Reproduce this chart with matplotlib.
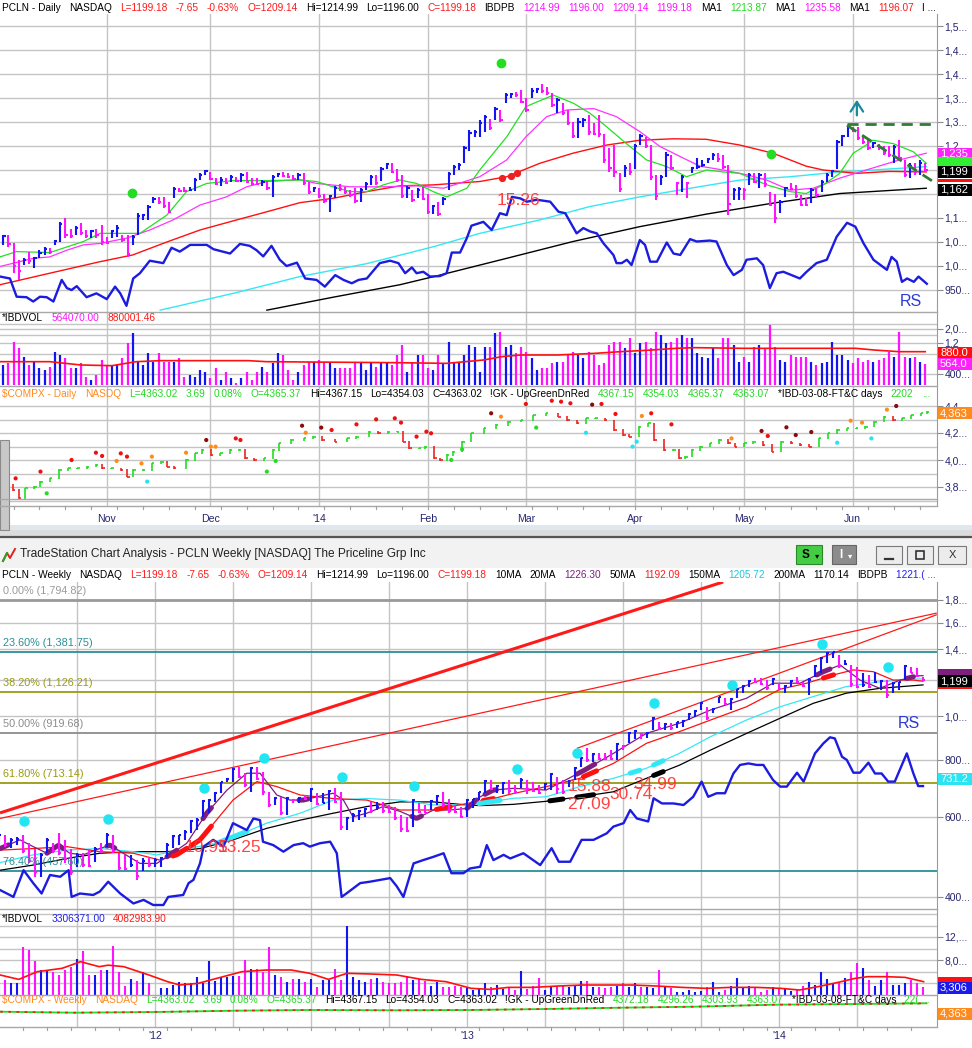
import numpy as np
import matplotlib
matplotlib.use("Agg")
import matplotlib.pyplot as plt
from matplotlib.patches import Rectangle
from matplotlib.lines import Line2D
from matplotlib.ticker import NullLocator, NullFormatter

plt.rcParams['font.family'] = ['Liberation Sans', 'DejaVu Sans']

# ===================== DATA =====================
# ---- PCLN daily (bars 0..179, Oct 3 2013 .. Jun 20 2014) ----
daily_high = [1075,1065,1065,1047,1012,1016,1030,1019,1033,1040,
              1037,1054,1092,1099,1078,1083,1089,1075,1075,1078,
              1085,1061,1075,1085,1065,1065,1065,1110,1108,1127,
              1143,1144,1144,1134,1164,1162,1165,1165,1183,1193,
              1200,1196,1183,1185,1183,1190,1186,1193,1196,1183,
              1183,1179,1178,1190,1193,1196,1193,1190,1193,1193,
              1176,1165,1162,1151,1148,1167,1171,1164,1158,1162,
              1162,1174,1190,1190,1207,1215,1214,1203,1190,1167,
              1158,1162,1165,1151,1127,1134,1144,1196,1210,1214,
              1250,1283,1283,1304,1314,1307,1332,1325,1360,1361,
              1363,1367,1349,1370,1370,1379,1373,1360,1349,1339,
              1325,1301,1308,1308,1314,1297,1314,1276,1245,1252,
              1193,1210,1214,1255,1276,1269,1252,1190,1190,1238,
              1231,1176,1190,1176,1207,1224,1221,1224,1235,1235,
              1231,1210,1162,1165,1162,1193,1193,1193,1193,1155,
              1151,1137,1165,1172,1169,1148,1141,1162,1162,1179,
              1193,1200,1262,1273,1294,1290,1290,1273,1266,1259,
              1255,1249,1249,1252,1262,1221,1214,1214,1221,1215]
daily_low = [1044,1044,1040,985,971,1002,1005,995,1016,1023,
             1026,1044,1051,1058,1058,1065,1065,1058,1058,1058,
             1044,1046,1058,1061,1049,1019,1044,1065,1096,1096,
             1131,1129,1120,1110,1141,1155,1155,1157,1157,1179,
             1190,1179,1169,1167,1171,1176,1176,1176,1172,1169,
             1168,1167,1158,1144,1186,1186,1183,1179,1179,1169,
             1151,1155,1141,1132,1113,1141,1157,1151,1144,1132,
             1134,1158,1169,1169,1178,1203,1193,1176,1141,1141,
             1134,1141,1137,1108,1108,1104,1127,1158,1189,1200,
             1214,1240,1269,1269,1280,1283,1305,1301,1339,1351,
             1353,1339,1321,1349,1360,1360,1356,1332,1318,1314,
             1294,1266,1266,1290,1273,1273,1269,1214,1196,1186,
             1155,1186,1189,1203,1252,1245,1179,1137,1169,1186,
             1200,1148,1155,1141,1193,1203,1207,1214,1221,1217,
             1203,1106,1137,1137,1137,1169,1172,1162,1165,1124,
             1089,1110,1144,1158,1141,1124,1124,1131,1144,1155,
             1176,1186,1203,1249,1269,1280,1262,1255,1242,1245,
             1242,1231,1228,1214,1221,1186,1183,1189,1189,1196]
daily_close = [1050,1062,1045,1000,990,1012,1010,1016,1028,1036,
               1030,1052,1088,1065,1062,1080,1068,1062,1072,1064,
               1050,1048,1072,1080,1055,1025,1060,1105,1106,1122,
               1140,1134,1125,1113,1160,1157,1156,1159,1180,1190,
               1198,1182,1171,1180,1173,1186,1178,1189,1176,1171,
               1170,1176,1162,1186,1192,1188,1185,1181,1190,1172,
               1155,1162,1145,1135,1145,1163,1160,1154,1147,1136,
               1158,1170,1186,1172,1203,1212,1196,1180,1145,1163,
               1138,1158,1140,1112,1124,1108,1140,1192,1206,1210,
               1246,1278,1280,1298,1310,1288,1328,1304,1356,1358,
               1356,1342,1325,1365,1368,1365,1360,1335,1345,1318,
               1298,1270,1300,1305,1280,1276,1274,1220,1205,1195,
               1160,1205,1195,1250,1270,1250,1185,1145,1185,1232,
               1205,1172,1186,1172,1205,1207,1210,1222,1232,1222,
               1207,1130,1158,1160,1158,1190,1176,1190,1170,1128,
               1100,1133,1162,1160,1145,1128,1127,1158,1147,1175,
               1190,1197,1258,1270,1290,1283,1266,1258,1246,1256,
               1245,1235,1232,1248,1225,1190,1208,1195,1215,1199]
daily_volume_k = [695,547,580,1257,992,738,547,616,486,458,
                  515,880,782,695,486,486,580,360,320,383,
                  655,547,547,547,695,1185,1690,616,547,830,
                  616,830,616,616,616,695,360,383,360,458,
                  431,340,486,320,431,340,284,340,431,320,
                  431,515,431,580,830,782,458,320,431,547,
                  616,616,655,616,616,486,486,486,486,616,
                  616,458,616,515,580,616,547,782,1117,431,
                  616,782,782,486,458,782,580,1257,580,580,
                  782,1117,1050,431,1050,1050,1690,1800,1050,1117,
                  830,1050,880,695,458,486,486,580,616,616,
                  782,880,782,695,880,782,547,580,1117,1257,
                  1257,992,1420,830,1185,1257,992,1800,1595,1185,
                  1257,1420,1595,1420,1420,830,738,695,992,695,
                  1420,1420,1117,616,738,616,1050,1117,992,2280,
                  1050,655,616,782,738,738,738,616,547,580,
                  616,1257,782,782,655,580,695,616,655,616,
                  655,695,880,738,1800,738,695,738,616,564]
daily_month_bar = [21, 41, 62, 83, 102, 123, 144, 165]
daily_month_lbl = ['Nov', 'Dec', "'14", 'Feb', 'Mar', 'Apr', 'May', 'Jun']

# daily moving averages / RS (bar position, value)
d_ma_green_x = [0.4,3.6,10,16.5,19.7,23.6,27.4,32.6,36.4,40.3,45.4,51.9,58.3,61.5,64.7,68,71.2,74.4,77.6,80.8,84,86.6,90.5,93,98.2,101.9,107.2,111.1,114.3,117.5,121.3,125.2,129.1,132.9,136.8,140,143.2,148.4,152.9,156,159.3,162.5,165.1,167.6,168.9,172.8,176.7,179.2]
d_ma_green_v = [1019,1030,1028,1051,1068,1068,1068,1106,1155,1172,1178,1178,1179,1176,1165,1155,1155,1169,1179,1172,1155,1144,1162,1200,1269,1332,1356,1339,1318,1290,1255,1221,1207,1186,1200,1196,1193,1169,1155,1151,1169,1193,1235,1252,1262,1255,1238,1214]
d_ma_mag_x = [0.4,6.8,10,13.3,16.5,19.7,24.8,29.3,33.8,39,44.1,48,51.9,58.3,61.5,68,74.4,80.8,86,93,98.2,101.9,105.9,109.8,115,119.4,123.9,127.8,131.7,135.5,140,144.5,148.4,152.9,157.4,162.5,167.6,174,179.2]
d_ma_mag_v = [999,1016,1019,1033,1044,1047,1058,1075,1096,1127,1144,1165,1176,1180,1172,1165,1165,1167,1162,1186,1221,1269,1311,1325,1328,1311,1280,1249,1228,1208,1200,1190,1179,1158,1162,1183,1200,1221,1235]
d_ma_red_x = [0.4,10,19.7,26,32.6,39,45.4,51.9,58.3,64.7,71.2,77.6,84,93,98.2,104.6,111,117.5,123.9,130.3,136.7,143.2,149.6,156,159.3,165.7,172,179.2]
d_ma_red_v = [961,985,1009,1023,1050,1075,1094,1113,1132,1141,1155,1167,1169,1176,1186,1214,1235,1252,1262,1265,1264,1252,1235,1208,1200,1193,1197,1196]
d_ma_cyan_x = [31.3,45.4,58.3,71.2,84,93,104.6,114.3,123.9,133.6,143.2,152.9,162.5,168.9,179.2]
d_ma_cyan_v = [908,943,978,1005,1040,1068,1096,1124,1144,1162,1179,1186,1196,1200,1207]
d_ma_black_x = [51.9,64.7,77.6,85.3,98.2,111,123.9,136.7,149.6,162.5,179.2]
d_ma_black_v = [908,935,961,981,1016,1051,1082,1108,1131,1151,1162]
d_rs_x = [0.4,2.3,3.6,5.5,6.8,8.1,9.4,10.7,12.3,13.3,14.2,15.2,17.1,19,21,22.6,23.6,24.8,26.1,27.4,29.3,31.9,33.5,35.1,37.1,40.3,41.6,44.8,46.7,48.6,49.9,51.2,52.8,54.4,55.7,57.7,59.3,61.5,63.1,65.1,66.7,68.3,69.6,71.2,73.7,75.7,77.3,78.6,79.9,80.8,82.1,83.4,85.3,86.6,87.6,89.2,90.5,91.4,93.7,95.3,96.9,98.2,99.2,100.8,102.1,104,106.6,108.2,109.5,111.7,113,114.3,115.6,116.9,118.8,119.4,120.4,121.4,122.3,123.9,124.9,125.9,127.2,129.1,130.4,131.7,133.6,134.9,137.4,138.7,140.7,142,143.6,144.5,146.5,147.7,149,150.3,151.6,154.8,156.1,158,160,161.9,163.9,165.5,167.1,169,171.6,172.5,173.5,174.5,175.5,176.8,177.7,179.3]
d_rs_v = [978,974,936,935,926,936,935,926,971,954,950,958,935,943,931,957,943,917,974,985,1011,1006,1038,1030,1044,1044,1035,1026,1046,1042,1033,1020,1042,1013,1000,1007,974,971,957,981,971,964,971,974,1006,1011,1006,985,997,985,988,978,979,985,1028,1028,1058,1084,1092,1075,1110,1106,1144,1141,1134,1138,1134,1113,1110,1068,1079,1072,1068,1047,1023,1006,1006,1013,1002,1054,1044,1009,1009,1049,1026,1023,1056,1051,1053,1051,1002,981,992,1013,1016,1002,954,985,988,974,988,1006,1013,1061,1090,1082,1047,1013,992,1019,1009,967,974,967,978,963]
d_vavg_x = [0.4,10,16,22,26.7,31.5,48.3,51.8,77,86.6,93.8,97.3,100.9,108.1,115.3,120.1,126.1,130.9,134.5,144,153.6,165.6,169.2,174,179]
d_vavg_v = [616,616,547,534,616,639,639,616,594,580,655,738,782,782,830,880,933,992,1016,992,992,992,933,880,880]
d_green_dot_x = [25.8, 97.1, 149.2]
d_green_dot_v = [1153, 1423, 1233]
d_red_dot_x = [97.2, 99.1, 100.1]
d_red_dot_v = [1183, 1188, 1193]
d_trend_x = [163.9, 180.5]
d_trend_v = [1293, 1176]
d_resist_x = [163.9, 181.0]
d_resist_v = [1295, 1295]

# ---- NASDAQ composite (daily panel) ----
compx_x = [1.0,2.8,4.0,5.2,7.0,8.2,10.0,11.8,13.6,15.3,17.1,18.9,20.1,21.9,23.7,24.9,26.1,27.9,29.7,31.5,32.7,33.9,36.3,38.1,39.3,41.1,42.9,44.7,46.5,47.7,49.5,51.3,53.0,54.2,56.6,59.0,60.8,62.6,65.0,67.4,69.2,71.6,73.4,75.2,77.0,78.2,79.4,81.2,82.4,84.2,85.4,86.6,87.8,89.6,91.4,93.8,96.1,98.5,100.9,103.3,105.7,108.1,109.9,111.7,113.5,115.3,117.1,118.9,120.7,121.9,123.7,125.5,126.7,128.5,130.3,131.5,132.7,133.9,135.6,137.4,139.2,141.0,142.2,144.0,145.8,147.6,149.4,151.2,153.0,154.8,156.6,158.4,160.2,162.0,163.8,165.6,167.4,169.2,171.0,172.8,174.6,176.3,178.1,179.3]
compx_v = [3815,3778,3716,3790,3802,3839,3864,3926,3938,3938,3951,3963,3938,3938,3926,3877,3926,3926,3975,3988,3951,3938,4000,4049,4074,4037,4049,4074,4074,4012,4000,4012,4074,4123,4148,4160,4173,4148,4136,4160,4173,4210,4198,4210,4210,4136,4086,4086,4099,4012,4000,4037,4062,4136,4198,4235,4259,4284,4296,4333,4346,4321,4296,4272,4309,4309,4296,4222,4185,4173,4247,4272,4148,4074,4074,4012,4025,4074,4099,4123,4148,4123,4099,4123,4136,4111,4062,4136,4123,4111,4099,4160,4198,4222,4235,4235,4247,4284,4321,4296,4309,4333,4346,4356]
compx_dot_x = [3.4,8.2,9.4,14.2,18.9,20.1,22.9,23.7,24.9,27.7,28.8,29.7,36.3,40.2,41.1,42.0,45.9,46.8,51.9,53.6,58.7,59.4,62.4,64.4,69.2,73.0,76.6,77.8,80.8,82.7,83.6,87.5,89.6,95.2,97.1,101.9,103.9,106.9,108.7,110.5,113.5,114.7,116.5,119.2,122.5,123.3,124.3,126.1,130.0,141.6,147.4,148.6,152.2,154.0,157.0,162.0,164.6,166.8,168.6,171.6,173.4]
compx_dot_v = [3864,3914,3753,4000,4054,4030,3993,4049,4025,3975,3840,4025,4054,4148,4099,4099,4160,4148,3914,3993,4254,4202,4240,4222,4264,4301,4309,4277,4173,4210,4198,4000,4079,4346,4321,4415,4240,4439,4432,4420,4202,4410,4415,4341,4099,4136,4326,4346,4264,4160,4215,4178,4242,4185,4207,4128,4291,4277,4160,4373,4400]
compx_dot_kind = ['r','r','g','r','r','r','o','r','r','o','c','o','o','d','o','o','r','r','g','g','d','o','d','r','r','r','r','r','r','r','r','g','g','d','o','r','g','r','r','r','c','d','r','r','c','c','o','r','r','o','d','r','d','d','d','c','o','o','c','o','d']

# ---- PCLN weekly (weeks 0..154, Jul 2011 .. Jun 2014) ----
weekly_high = [553,549,540,542,549,526,512,500,540,526,
               553,535,512,500,500,512,517,526,553,549,
               500,496,496,483,487,491,487,491,526,549,
               549,562,591,596,654,659,682,718,730,768,
               774,749,774,774,755,682,665,665,665,659,
               665,671,694,677,677,688,694,682,601,612,
               622,627,649,649,649,638,633,606,601,659,
               643,638,654,671,682,659,638,633,659,659,
               682,724,724,706,718,724,706,730,724,718,
               706,712,749,736,724,724,774,814,849,828,
               828,828,842,871,863,924,932,916,924,997,
               972,964,964,972,980,1014,1031,1075,1048,1039,
               1103,1094,1094,1150,1170,1199,1210,1210,1199,1210,
               1180,1170,1199,1220,1189,1210,1294,1349,1384,1384,
               1360,1326,1294,1283,1240,1230,1251,1199,1199,1189,
               1189,1294,1283,1272,1215]
weekly_low = [521,517,513,521,500,475,444,444,500,500,
              496,475,448,467,467,467,479,500,517,500,
              459,459,467,437,456,467,467,467,491,513,
              521,535,553,562,601,612,648,677,715,718,
              730,700,682,724,671,633,638,606,606,643,
              643,654,648,638,643,622,643,562,562,586,
              591,601,612,622,612,612,591,556,556,572,
              612,612,622,638,633,612,612,596,601,627,
              654,677,688,677,676,676,676,694,676,682,
              676,688,688,676,676,700,724,774,794,794,
              801,801,801,801,842,871,890,890,894,932,
              932,932,932,940,947,980,997,1031,980,1014,
              1066,1057,1031,1094,1122,1160,1180,1170,1140,1170,
              1140,1122,1160,1180,1160,1112,1220,1240,1304,1337,
              1272,1294,1160,1150,1160,1150,1180,1140,1094,1122,
              1140,1199,1240,1220,1196]
weekly_close = [548,522,535,538,505,480,455,495,535,505,
                500,485,455,495,470,468,510,505,548,505,
                465,462,470,445,480,470,484,488,520,545,
                547,558,588,592,650,655,678,715,728,765,
                735,705,770,728,680,638,660,612,660,655,
                662,657,690,642,645,684,648,570,596,608,
                618,624,620,630,618,615,596,565,560,655,
                615,614,650,668,640,618,615,600,655,656,
                680,720,692,702,712,685,680,725,690,686,
                679,708,745,690,682,720,770,810,800,825,
                806,804,803,866,860,918,928,912,920,992,
                940,960,940,968,976,1010,1027,1070,990,1035,
                1098,1062,1090,1145,1165,1195,1185,1175,1150,1205,
                1145,1165,1195,1185,1165,1200,1288,1340,1378,1380,
                1285,1300,1175,1160,1168,1155,1190,1195,1110,1180,
                1185,1290,1245,1225,1199]
weekly_volume_m = [3.65,4.52,3.94,4.05,10.3,9.73,7.82,6.26,6.26,5.97,
                   5.39,6.26,6.84,8.11,9.56,5.39,5.39,6.26,6.26,10.4,
                   5.97,3.47,4.63,4.34,5.97,3.94,2.0,3.07,3.07,3.65,
                   4.23,3.94,4.05,4.98,4.05,7.82,4.34,5.10,5.10,5.21,
                   5.21,8.0,6.37,6.37,5.97,10.3,5.39,4.98,4.23,4.63,
                   4.63,4.23,4.63,3.36,4.52,4.52,6.37,4.52,13.9,5.10,
                   4.52,4.23,4.63,4.81,4.23,4.05,4.05,4.23,5.21,4.52,
                   4.63,4.34,3.47,4.23,3.24,3.36,3.47,3.24,3.07,2.78,
                   3.07,3.94,3.24,3.65,2.89,3.24,2.78,6.14,2.89,3.47,
                   4.81,2.78,3.24,3.47,3.65,3.24,3.65,4.34,4.34,3.24,
                   3.24,3.07,3.24,3.47,3.94,3.36,3.94,3.24,3.24,3.07,
                   6.26,3.24,3.07,2.49,2.49,2.78,2.49,2.66,3.24,4.23,
                   2.49,2.78,3.47,4.81,3.24,3.47,3.07,2.49,2.78,3.24,
                   2.89,2.89,2.66,2.78,3.47,4.23,3.65,5.97,4.63,4.05,
                   4.05,4.81,5.97,7.42,6.55,4.52,3.47,4.52,5.97,3.65,
                   3.65,4.05,4.52,3.94,3.31]
weekly_year_week = [26, 78, 130]
weekly_year_lbl = ["'12", "'13", "'14"]

w_ma10_x = [0.2,3.5,5.7,8,9.9,11.8,14,16.8,18.5,20.7,23.5,26.3,28.5,31.3,34.6,38,41.3,43.5,46.3,48.5,50.7,53,55.7,57.4,59,61.3,64,66.8,69.6,72.4,75.2,78,80.2,82.4,85.7,91.2,97.6,102.4,107.9,113.4,118.6,124.6,129,133.5,137.4,140.2,143.5,146.8,150.2,153,154]
w_ma10_v = [512,535,517,500,521,500,496,512,521,500,475,475,496,526,612,688,749,749,671,654,654,665,677,654,601,612,633,618,596,622,622,627,665,688,694,688,761,828,916,964,1031,1094,1180,1180,1251,1294,1199,1150,1199,1225,1226]
w_ma20_x = [0.2,5.7,11.3,16.8,22.4,26.8,29.6,33.5,39,43,46.3,50.2,55.7,61.3,66.8,72.4,78,82.4,85.7,91.2,96.8,102.4,107.9,113.4,118.6,124.6,130.2,134.6,139,142.4,145.7,149,152.4,154]
w_ma20_v = [508,512,517,504,500,483,496,535,654,718,700,671,659,654,622,622,643,659,676,700,730,787,871,924,980,1048,1145,1180,1230,1262,1251,1199,1199,1192]
w_ma150_x = [0.2,5.7,11.3,16.8,22.4,26.3,31.3,36.3,41.3,44.6,50.2,55.7,61.3,66.8,72.4,78,80.2,85.7,91.2,96.8,102.4,107.9,113.4,118.6,124.6,130.2,135.7,141.2,146.8,152.4,154]
w_ma150_v = [477,496,508,512,504,496,512,526,558,582,612,654,659,654,638,638,643,660,665,700,730,768,828,901,980,1048,1103,1160,1189,1205,1206]
w_ma200_x = [0.2,5.7,11.3,16.8,22.4,28,33.5,39,44.6,50.2,55.7,61.3,66.8,72.4,78,80.2,85.7,91.2,96.8,102.4,107.9,113.4,118.6,124.6,130.2,135.7,141.2,146.8,154]
w_ma200_v = [459,471,487,500,504,504,512,535,567,591,612,633,648,648,638,636,640,650,665,682,730,780,842,916,989,1066,1122,1150,1170]
w_ma10_bold = [(0.2,1.6),(8,10.7),(18,19.3),(28,29.6),(34,35.4),(50,51.5),(68.8,70.4),(78,79.6),(81,82.9),(96.3,99.3),(136.3,138.5),(151.3,152.4)]
w_ma20_bold = [(29,31.3),(32,35.4),(72.9,75.2),(80.7,82.4),(97.4,99.6),(137.4,139.1)]
w_ma150_bold = [(36.3,41.3),(80,83.5),(105.2,106.8),(109.1,110.7)]
w_ma200_bold = [(91.8,94),(96.3,99.1),(109.1,110.7)]
w_rs_x = [0.2,1.8,2.4,4.1,5.7,7.1,8.5,10.2,11.6,12.1,13.5,15.7,16.8,18.2,20.2,22.4,24.1,25.7,27.4,28.2,30.7,31.6,32.4,33.5,34.1,35.7,37.4,39,41.3,42.4,43.5,44,45.7,47.4,49.1,50.7,51.8,53.5,55.2,56.3,57.1,57.9,60.2,61.8,63.5,65.2,66.3,67.4,69.1,70.7,72.4,74.1,75.4,77.4,78.5,80.2,81.3,82.4,84.1,85.2,87.4,90.2,92.1,93.3,95.2,97.1,99.1,101.3,102.4,104.1,105.2,106.3,108.2,109.1,110.5,112.4,114.1,115.7,117.1,118.2,119.6,121,122.4,123.5,124.9,126.3,127.4,129,130.2,131.3,133,134.1,136,137.4,138.5,139.3,140.5,141.3,142.4,143.5,144.9,146,147.1,148.2,149.3,151.3,152.4,153.2,154]
w_rs_v = [415,405,401,459,430,408,448,444,459,401,408,405,412,433,408,388,395,385,385,401,405,430,437,475,517,535,517,582,562,596,591,530,521,504,521,526,517,526,530,500,401,408,430,433,437,441,423,401,475,483,491,500,452,452,463,467,521,483,496,487,500,471,513,479,479,535,535,553,572,582,622,596,587,660,643,643,638,665,718,665,677,677,748,781,787,781,781,724,700,700,751,718,828,871,898,893,814,801,751,751,790,748,748,718,718,828,748,702,702]
w_vavg_x = [0.2,3.3,6.4,10.5,13.6,16.7,18.2,20.8,25,28.1,30.1,33.2,36.3,40.5,44.6,48.7,51.8,54.9,58,62.1,66.3,70.4,74.5,78.7,81.8,84.9,89,93.1,97.3,101.4,105.5,109.7,113.8,117.9,122,126.2,130.3,133.4,136.5,139.6,142.7,144.8,147.9,151,154.1]
w_vavg_v = [5.39,4.63,5.97,6.55,7.7,6.84,7.1,6.84,5.39,4.23,3.65,3.94,4.81,5.97,6.26,6.26,5.68,4.63,5.68,5.56,5.39,4.63,4.23,3.07,2.89,3.24,3.24,3.47,3.65,3.65,3.65,3.47,3.24,3.07,3.24,3.24,3.07,2.78,3.36,4.05,4.81,5.10,5.10,4.98,4.23]
w_cyan_dot_x = [4.2,18.2,34.2,44.2,57.2,69.2,86.3,96.3,109.2,122.2,137.2,148.2]
w_cyan_dot_v = [589,594,695,809,735,702,765,829,1068,1170,1439,1281]
fib_pct = ['0.00%', '23.60%', '38.20%', '50.00%', '61.80%', '76.40%']
fib_level = [1794.82, 1381.75, 1126.21, 919.68, 713.14, 457.60]
fib_color = ['#9a9a9a', '#2a8f96', '#9a9a10', '#8c8c8c', '#9a9a10', '#2a8f96']
w_trend_x = [(0.17, 120.7), (0.17, 156.3), (96.3, 156.3)]
w_trend_v = [(613, 1968), (596, 1682), (849, 1668)]
w_trend_lw = [2.2, 0.9, 0.9]
w_note_txt = ['10.95', '13.25', '15.88', '27.09', '30.74', '34.99']
w_note_x = [31.0, 36.5, 94.8, 94.7, 101.7, 105.7]
w_note_v = [516, 516, 699, 638, 671, 706]
wcompx_x = [0.2,12.6,26,39.4,51.8,66.3,78.7,91.1,103.5,115.9,129.3,142.7,154.6]
wcompx_v = [2801,2615,2745,2987,3117,3061,3117,3303,3545,3731,4103,4233,4363]

# ===================== FIGURE =====================
W, H = 972, 1048
fig = plt.figure(figsize=(W / 100, H / 100), dpi=100)
fig.patch.set_facecolor('white')

BLUE = '#1414f2'
MAG = '#ff12ff'
GRID = '#c4c4c4'
NAVY = '#25256e'
RSB = '#1c1ce0'
TRED = '#ff1a1a'
TGRN = '#25d825'
ORG = '#ff8a1e'
CYAN = '#2ae4f2'
PURP = '#7d1f7d'
DOTC = {'r': '#ee1111', 'd': '#8b0a0a', 'o': '#ff8c1a', 'c': '#22e5f2', 'g': '#22dd22'}


def fx(x):
    return x / W


def fy(y):
    return 1 - y / H


def frect(x0, y0, x1, y1, **kw):
    fig.patches.append(Rectangle((fx(x0), fy(y1)), (x1 - x0) / W, (y1 - y0) / H,
                                 transform=fig.transFigure, **kw))


def fline(xs, ys, **kw):
    fig.lines.append(Line2D([fx(x) for x in xs], [fy(y) for y in ys],
                            transform=fig.transFigure, **kw))


def ftext(x, y, s, **kw):
    return fig.text(fx(x), fy(y), s, **kw)


def mkax(x0, y0, x1, y1, xlim, ylim, log=False):
    ax = fig.add_axes([fx(x0), fy(y1), (x1 - x0) / W, (y1 - y0) / H])
    if log:
        ax.set_yscale('log')
    ax.set_xlim(*xlim)
    ax.set_ylim(min(ylim), max(ylim))
    for s in ['top', 'left', 'bottom']:
        ax.spines[s].set_visible(False)
    ax.spines['right'].set_color('#9a9a9a')
    ax.yaxis.tick_right()
    ax.tick_params(axis='y', which='major', direction='out', length=4, width=0.8,
                   color='#8a8a8a', labelsize=7.5, labelcolor=NAVY, pad=1.5)
    ax.yaxis.set_minor_locator(NullLocator())
    ax.yaxis.set_minor_formatter(NullFormatter())
    ax.set_xticks([])
    ax.patch.set_alpha(0)
    return ax


def grid(ax, ys, xs):
    for y in ys:
        ax.axhline(y, color=GRID, lw=1.0, zorder=0)
    for x in xs:
        ax.axvline(x, color=GRID, lw=1.0, zorder=0)


def set_ticks(ax, ticks, labels):
    ax.set_yticks(ticks)
    ax.set_yticklabels(labels)
    ax.yaxis.set_minor_locator(NullLocator())


def header(tokens, x0, x1, y, size=7.3):
    r = fig.canvas.get_renderer()
    ts = [ftext(x0, y, s, color=c, fontsize=size, va='center', ha='left', zorder=20)
          for s, c in tokens]
    ws = [t.get_window_extent(r).width for t in ts]
    gap = (x1 - x0 - sum(ws)) / (len(ts) - 1)
    gap = min(max(gap, 3.0), 16.0)
    x = x0
    for t, w in zip(ts, ws):
        t.set_position((fx(x), fy(y)))
        x += w + gap


def box(y, text, bg, h=12, fg='white'):
    frect(938, y - h / 2, 972, y + h / 2, facecolor=bg, edgecolor='none', zorder=30)
    if text:
        ftext(940, y, text, color=fg, fontsize=8, va='center', ha='left', zorder=31)


def draw_bars(ax, high, low, close, tick):
    n = len(close)
    x = np.arange(n)
    cols = [BLUE] + [BLUE if close[i] >= close[i - 1] else MAG for i in range(1, n)]
    ax.vlines(x, low, high, colors=cols, lw=1.5, zorder=4)
    ax.hlines(close, x, x + tick, colors=cols, lw=1.5, zorder=4)
    return cols


# ---------------- window chrome ----------------
frect(0, 530, 972, 536, facecolor='#dcdcdc', edgecolor='none', zorder=1)
fline([0, 972], [536.5, 536.5], color='#555555', lw=1.6, zorder=2)
frect(0, 538, 972, 568, facecolor='#f2f2f2', edgecolor='none', zorder=1)
frect(0, 525, 972, 530, facecolor='#dfe7ef', edgecolor='none', zorder=1)
frect(0, 440, 9, 530, facecolor='#c8c8c8', edgecolor='#8a8a8a', lw=0.8, zorder=1)
fline([3, 7, 10, 15], [561, 553, 558, 549], color='#dd2222', lw=1.4, zorder=3)
fline([3, 7], [561, 553], color='#22aa22', lw=1.4, zorder=3)
ftext(20, 554, 'TradeStation Chart Analysis - PCLN Weekly [NASDAQ] The Priceline Grp Inc',
      fontsize=8.6, color='#222222', va='center', ha='left', zorder=5)
frect(796, 545, 822, 564, facecolor='#44cc44', edgecolor='#2a8a2a', lw=0.8, zorder=3)
ftext(806, 555, 'S', fontsize=8.5, fontweight='bold', color='black', va='center', ha='center', zorder=5)
ftext(817, 556, '▾', fontsize=6, color='black', va='center', ha='center', zorder=5, family='DejaVu Sans')
frect(832, 545, 856, 564, facecolor='#8c8c8c', edgecolor='#666666', lw=0.8, zorder=3)
ftext(841, 555, 'I', fontsize=8.5, fontweight='bold', color='white', va='center', ha='center', zorder=5)
ftext(850, 556, '▾', fontsize=6, color='white', va='center', ha='center', zorder=5, family='DejaVu Sans')
for bx0, bx1 in [(876, 902), (907, 933), (938, 966)]:
    frect(bx0, 546, bx1, 564, facecolor='#ececec', edgecolor='#7a7a7a', lw=0.8, zorder=3)
fline([885, 893], [559, 559], color='#333333', lw=1.6, zorder=5)
frect(916, 551, 924, 559, facecolor='none', edgecolor='#333333', lw=1.2, zorder=5)
ftext(952, 555, 'X', fontsize=8, color='#333333', va='center', ha='center', zorder=5)

# ---------------- DAILY PRICE ----------------
DXL = (0.386, 181.27)
ax1 = mkax(0, 14, 937, 312, DXL, (1200 + (170 - 14) * 50 / 24, 1200 - (312 - 170) * 50 / 24))
grid(ax1, list(range(950, 1501, 50)), daily_month_bar)
set_ticks(ax1, [950, 1000, 1050, 1100, 1250, 1300, 1350, 1400, 1450, 1500],
          ['950...', '1,0...', '1,0...', '1,1...', '1,2', '1,3...', '1,3...', '1,4...', '1,4...', '1,5...'])
ax1.plot(d_ma_black_x, d_ma_black_v, color='black', lw=1.0, zorder=2)
ax1.plot(d_ma_cyan_x, d_ma_cyan_v, color='#33e8f5', lw=1.0, zorder=2)
ax1.plot(d_ma_red_x, d_ma_red_v, color='#ff1010', lw=1.0, zorder=2)
ax1.plot(d_ma_mag_x, d_ma_mag_v, color='#ff33ff', lw=0.9, zorder=2)
ax1.plot(d_ma_green_x, d_ma_green_v, color='#22e022', lw=0.9, zorder=2)
ax1.plot(d_rs_x, d_rs_v, color=RSB, lw=1.7, zorder=3)
d_cols = draw_bars(ax1, daily_high, daily_low, daily_close, 0.45)
ax1.plot(d_green_dot_x, d_green_dot_v, 'o', color='#22dd22', ms=6, zorder=5)
ax1.plot(d_red_dot_x, d_red_dot_v, 'o', color='#ee2020', ms=4.2, zorder=5)
ax1.plot(d_resist_x, d_resist_v, color='#2e7d32', lw=2, dashes=(4, 2.5), zorder=5)
ax1.plot(d_trend_x, d_trend_v, color='#2e7d32', lw=2, dashes=(4, 2.5), zorder=5)
ax1.annotate('', xy=(165.8, 1352), xytext=(165.8, 1308),
             arrowprops=dict(arrowstyle='->,head_length=0.7,head_width=0.45', color='#1a8a9a', lw=1.6),
             zorder=6)
ax1.text(96.3, 1137, '15.26', color='#ff4040', fontsize=12.5, va='center', ha='left', zorder=6)
ax1.text(174.1, 925, 'RS', color='#2a3ad8', fontsize=11.5, va='center', ha='left', zorder=6)
fline([0, 937], [312, 312], color='#a8a8a8', lw=1, zorder=3)

# ---------------- DAILY VOLUME ----------------
ax2 = mkax(0, 312, 937, 385, DXL, (1200 * np.exp((343 - 385) / 28), 1200 * np.exp((343 - 312) / 28)), log=True)
grid(ax2, [400, 800, 1200, 1600, 2000, 2400], daily_month_bar)
set_ticks(ax2, [400, 1200, 2000], ['400...', '1,2', '2,0...'])
ax2.vlines(np.arange(len(daily_volume_k)), 1, daily_volume_k, colors=d_cols, lw=1.6, zorder=3)
ax2.plot(d_vavg_x, d_vavg_v, color='#ff1010', lw=1.2, zorder=4)
fline([0, 937], [385.5, 385.5], color='#a8a8a8', lw=1, zorder=3)

# ---------------- DAILY COMPX ----------------
ax3 = mkax(0, 386, 937, 506, DXL, (4000 + (460 - 386) * 200 / 27, 4000 - (506 - 460) * 200 / 27))
grid(ax3, list(range(3700, 4401, 100)), daily_month_bar)
set_ticks(ax3, [3800, 4000, 4200, 4400], ['3,8...', '4,0...', '4,2...', '4,4'])
for k in range(1, len(compx_v)):
    c = '#22dd22' if compx_v[k] >= compx_v[k - 1] else '#ee2222'
    ax3.vlines(compx_x[k], min(compx_v[k], compx_v[k - 1]) - 4, max(compx_v[k], compx_v[k - 1]) + 4,
               colors=c, lw=1.2, zorder=3)
    ax3.hlines(compx_v[k], compx_x[k], compx_x[k] + 0.5, colors=c, lw=1.2, zorder=3)
ax3.scatter(compx_dot_x, compx_dot_v, s=9, c=[DOTC[k] for k in compx_dot_kind], zorder=4, linewidths=0)
fline([0, 937], [499, 499], color='#a8a8a8', lw=1, zorder=3)
fline([0, 937], [506, 506], color='#a8a8a8', lw=1, zorder=3)
for i in range(3, 181, 5):
    px = (i - DXL[0]) / (DXL[1] - DXL[0]) * 937
    fline([px, px], [506, 509], color='#a0a0a0', lw=0.8, zorder=3)
for i, lbl in zip(daily_month_bar, daily_month_lbl):
    px = (i - DXL[0]) / (DXL[1] - DXL[0]) * 937
    ftext(px, 519, lbl, fontsize=7.6, color=NAVY, va='center', ha='center', zorder=5)

# ---------------- WEEKLY PRICE ----------------
WXL = (1 / 6, 938 / 6)
ax4 = mkax(0, 582, 937, 909, WXL, (1000 * np.exp((716 - 582) / 198), 1000 * np.exp((716 - 909) / 198)), log=True)
grid(ax4, [400, 600, 800, 1000, 1200, 1400, 1600, 1800], list(range(13, 155, 13)))
set_ticks(ax4, [400, 600, 800, 1000, 1400, 1600, 1800],
          ['400...', '600...', '800...', '1,0...', '1,4...', '1,6...', '1,8...'])
for p, lv, c in zip(fib_pct, fib_level, fib_color):
    ax4.axhline(lv, color=c, lw=2.0 if p == '0.00%' else 1.3, zorder=1)
    ax4.annotate('%s (%s)' % (p, format(lv, ',.2f')), xy=(0, lv), xycoords=('axes fraction', 'data'),
                 xytext=(3, 9), textcoords='offset pixels', fontsize=7.8, color=c,
                 va='center', ha='left', zorder=6)
for (xa, xb), (va, vb), lw in zip(w_trend_x, w_trend_v, w_trend_lw):
    ax4.plot([xa, xb], [va, vb], color='#ff1a1a', lw=lw, zorder=2, solid_capstyle='butt')
ax4.plot(w_ma200_x, w_ma200_v, color='black', lw=0.9, zorder=2)
ax4.plot(w_ma150_x, w_ma150_v, color='#33e8f5', lw=0.9, zorder=2)
ax4.plot(w_ma20_x, w_ma20_v, color='#ff1010', lw=0.9, zorder=2)
ax4.plot(w_ma10_x, w_ma10_v, color=PURP, lw=0.9, zorder=2)
for segs, mx, mv, col in [(w_ma10_bold, w_ma10_x, w_ma10_v, PURP), (w_ma20_bold, w_ma20_x, w_ma20_v, '#ff1010'),
                          (w_ma150_bold, w_ma150_x, w_ma150_v, '#33e8f5'), (w_ma200_bold, w_ma200_x, w_ma200_v, 'black')]:
    for a, b in segs:
        xs = np.linspace(a, b, 8)
        ax4.plot(xs, np.exp(np.interp(xs, mx, np.log(mv))), color=col, lw=3.6, zorder=3,
                 solid_capstyle='round')
ax4.plot(w_rs_x, w_rs_v, color=RSB, lw=1.7, zorder=3)
w_cols = draw_bars(ax4, weekly_high, weekly_low, weekly_close, 0.4)
ax4.plot(w_cyan_dot_x, w_cyan_dot_v, 'o', color='#22e5f2', ms=6.5, zorder=5)
for s, x, v in zip(w_note_txt, w_note_x, w_note_v):
    ax4.text(x, v, s, color='#ff3030', fontsize=12.5, va='center', ha='left', zorder=6, alpha=0.9)
ax4.text(149.8, 965, 'RS', color='#2a3ad8', fontsize=11.5, va='center', ha='left', zorder=6)
fline([0, 937], [909, 909], color='#a8a8a8', lw=1, zorder=3)

# ---------------- WEEKLY VOLUME ----------------
ax5 = mkax(0, 909, 937, 995, WXL, (8 - (995 - 960) / 5.75, 8 + (960 - 909) / 5.75))
grid(ax5, [4, 6, 8, 10, 12, 14, 16], list(range(13, 155, 13)))
set_ticks(ax5, [8, 12], ['8,0...', '12,...'])
ax5.vlines(np.arange(len(weekly_volume_m)), 0, weekly_volume_m, colors=w_cols, lw=1.5, zorder=3)
ax5.plot(w_vavg_x, w_vavg_v, color='#ff1010', lw=1.2, zorder=4)
fline([0, 937], [995, 995], color='#a8a8a8', lw=1, zorder=3)

# ---------------- WEEKLY COMPX ----------------
ax6 = mkax(0, 996, 937, 1027, WXL, (4363 - (1027 - 1003.3) * 186, 4363 + (1003.3 - 996) * 186))
grid(ax6, [], list(range(13, 155, 13)))
ax6.set_yticks([])
ax6.plot(wcompx_x, wcompx_v, color='#22dd22', lw=1.3, zorder=3)
ax6.plot(wcompx_x, wcompx_v, color='#ee2222', lw=1.3, dashes=(1.5, 3), zorder=4)
fline([0, 937], [1027, 1027], color='#a8a8a8', lw=1, zorder=3)
for wk in range(4, 156, 4):
    px = (wk - WXL[0]) / (WXL[1] - WXL[0]) * 937
    fline([px, px], [1027, 1030], color='#a0a0a0', lw=0.8, zorder=3)
for wk, lbl in zip(weekly_year_week, weekly_year_lbl):
    px = (wk - WXL[0]) / (WXL[1] - WXL[0]) * 937
    ftext(px, 1036, lbl, fontsize=7.6, color=NAVY, va='center', ha='center', zorder=5)

# ---------------- header lines ----------------
K = 'black'
header([("PCLN - Daily", K), ("NASDAQ", K), ("L=1199.18", TRED), ("-7.65", TRED), ("-0.63%", TRED),
        ("O=1209.14", TRED), ("Hi=1214.99", K), ("Lo=1196.00", K), ("C=1199.18", TRED), ("IBDPB", K),
        ("1214.99", MAG), ("1196.00", MAG), ("1209.14", MAG), ("1199.18", MAG), ("MA1", K),
        ("1213.87", TGRN), ("MA1", K), ("1235.58", MAG), ("MA1", K), ("1196.07", TRED), ("I ...", K)],
       2, 936, 8)
header([("*IBDVOL", K), ("564070.00", MAG), ("880001.46", TRED)], 2, 156, 318)
header([("$COMPX - Daily", ORG), ("NASDQ", ORG), ("L=4363.02", TGRN), ("3.69", TGRN), ("0.08%", TGRN),
        ("O=4365.37", TGRN), ("Hi=4367.15", K), ("Lo=4354.03", K), ("C=4363.02", K),
        ("!GK - UpGreenDnRed", K), ("4367.15", TGRN), ("4354.03", TGRN), ("4365.37", TGRN),
        ("4363.07", TGRN), ("*IBD-03-08-FT&C days", K), ("2202", TGRN), ("...", TGRN)], 2, 930, 394)
header([("PCLN - Weekly", K), ("NASDAQ", K), ("L=1199.18", TRED), ("-7.65", TRED), ("-0.63%", TRED),
        ("O=1209.14", TRED), ("Hi=1214.99", K), ("Lo=1196.00", K), ("C=1199.18", TRED), ("10MA", K),
        ("20MA", K), ("1226.30", PURP), ("50MA", K), ("1192.09", TRED), ("150MA", K), ("1205.72", '#20c8d8'),
        ("200MA", K), ("1170.14", K), ("IBDPB", K), ("1221.( ...", '#2020ee')], 2, 936, 575)
header([("*IBDVOL", K), ("3306371.00", '#2020ee'), ("4082983.90", TRED)], 2, 167, 919)
header([("$COMPX - Weekly", ORG), ("NASDAQ", ORG), ("L=4363.02", TGRN), ("3.69", TGRN), ("0.08%", TGRN),
        ("O=4365.37", TGRN), ("Hi=4367.15", K), ("Lo=4354.03", K), ("C=4363.02", K),
        ("!GK - UpGreenDnRed", K), ("4372.18", TGRN), ("4296.26", TGRN), ("4303.93", TGRN),
        ("4363.07", TGRN), ("*IBD-03-08-FT&C days", K), ("22( ...", TGRN)], 2, 930, 1000)

# ---------------- right-hand value boxes ----------------
box(154, '1,235', '#ff22ff')
box(163, '', '#33ee33')
box(172, '1,199', 'black')
frect(938, 179, 972, 182, facecolor='#ff1010', edgecolor='none', zorder=30)
box(190, '1,162', 'black')
box(353, '880.0', '#ff1010')
box(364, '564.0', '#ff22ff')
box(413, '4,363', ORG)
box(673, '', PURP, h=8)
box(681, '1,199', 'black')
frect(938, 687, 972, 689, facecolor='#ff1010', edgecolor='none', zorder=30)
box(779, '731.2', CYAN)
box(980, '', '#ff1010', h=6)
box(988, '3,306', '#1a1aee')
box(1014, '4,363', ORG)

fig.savefig('out.png', dpi=100, facecolor='white')
